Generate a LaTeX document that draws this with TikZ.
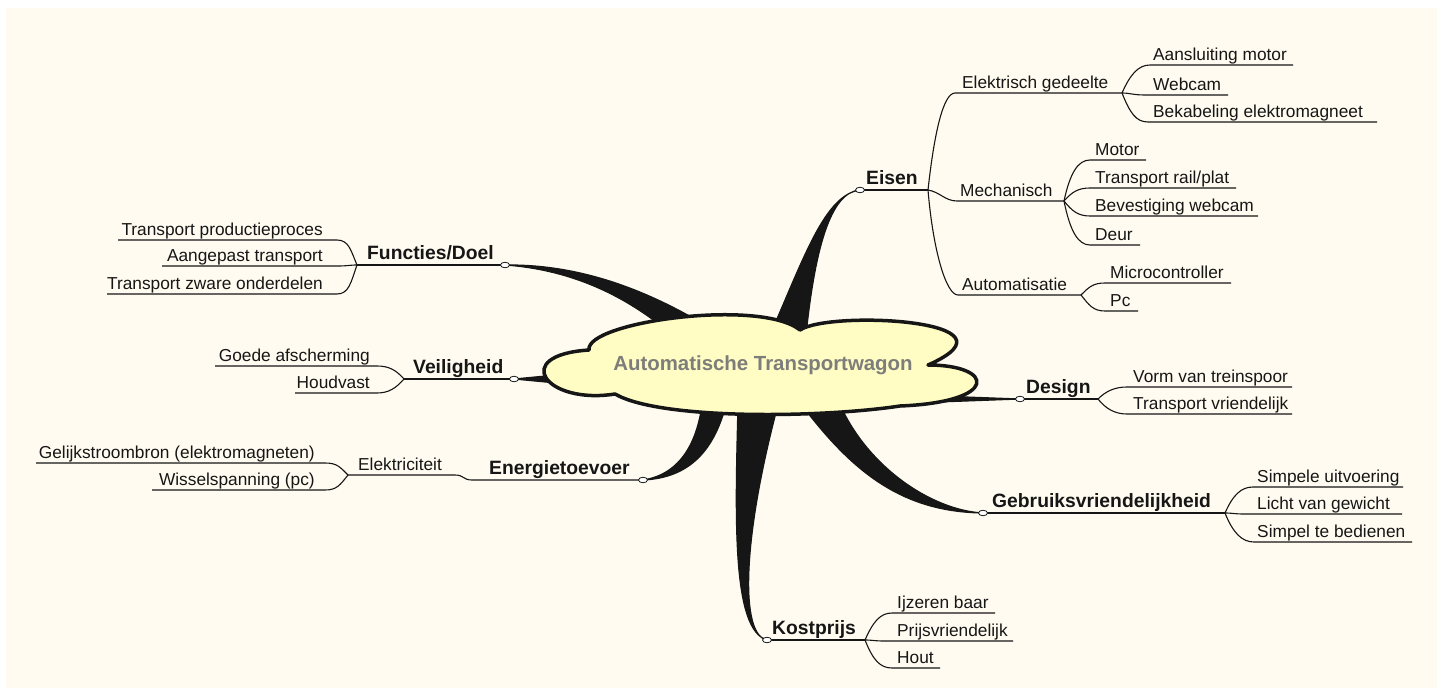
\documentclass[tikz,border=0pt]{standalone}
\usepackage{fontspec}
\setmainfont{Liberation Sans}
\usetikzlibrary{shapes.geometric}
\definecolor{paper}{RGB}{255,251,240}
\definecolor{ink}{RGB}{22,22,22}
\definecolor{cloudfill}{RGB}{255,253,196}
\definecolor{titlegray}{RGB}{125,125,122}
\tikzset{
  leaf/.style={font=\fontsize{17.3}{20}\selectfont, text=ink, inner sep=0pt, anchor=base west},
  leafleft/.style={leaf, anchor=base east},
  topic/.style={font=\bfseries\fontsize{19.3}{23}\selectfont, text=ink, inner sep=0pt, anchor=base west},
  twig/.style={draw=ink, line width=1.1pt},
  knob/.style={ellipse, draw=ink, fill=white, line width=0.8pt, minimum width=9pt, minimum height=5.5pt, inner sep=0pt},
  limb/.style={fill=ink, draw=ink, line width=1.2pt, line join=round},
}
% right-hand leaf: name, parent, first control offset, underline start x, text x, underline end x, underline y, text
\newcommand\twigright[8]{%
  \coordinate (#1-s) at (#4,#7);
  \coordinate (#1-e) at (#6,#7);
  \node[leaf] (#1) at (#5,#7-5) {#8};
  \draw[twig] (#2) .. controls +(#3) and +(-12,0) .. (#1-s) -- (#1-e);
}
% left-hand leaf: same arguments, text right-aligned
\newcommand\twigleft[8]{%
  \coordinate (#1-s) at (#4,#7);
  \coordinate (#1-e) at (#6,#7);
  \node[leafleft] (#1) at (#5,#7-5) {#8};
  \draw[twig] (#2) .. controls +(#3) and +(12,0) .. (#1-s) -- (#1-e);
}
\begin{document}
\begin{tikzpicture}[x=1pt,y=-1pt]
\useasboundingbox (0,0) rectangle (1444,688);
\fill[white] (0,0) rectangle (1444,688);
\fill[paper] (6,8) rectangle (1437,688);

% knots where the limbs meet the topic underlines
\coordinate (kEisen) at (860,190);
\coordinate (kFunc) at (505,265);
\coordinate (kVeil) at (514,379);
\coordinate (kEner) at (643,480);
\coordinate (kDes) at (1020,399);
\coordinate (kGeb) at (983,513);
\coordinate (kKost) at (767,640);

% tapered limbs from the central cloud
\draw[limb] (768,350) -- (770,335) .. controls (805,255) and (825,195) .. (kEisen)
  .. controls (830,192) and (815,250) .. (806,335) -- (804,350) -- cycle;
\draw[limb] (665,338) -- (660,325) .. controls (625,298) and (575,270) .. (kFunc)
  .. controls (580,264) and (645,290) .. (700,322) -- (705,336) -- cycle;
\draw[limb] (kVeil) -- (556,375) -- (556,383) -- cycle;
\draw[limb] (702,405) .. controls (697,440) and (682,474) .. (kEner)
  .. controls (690,478) and (714,450) .. (726,405) -- cycle;
\draw[limb] (kDes) -- (925,395.5) -- (925,402.5) -- cycle;
\draw[limb] (798,400) .. controls (850,470) and (900,512) .. (kGeb)
  .. controls (930,510) and (865,465) .. (838,400) -- cycle;
\draw[limb] (738,405) .. controls (735,520) and (732,630) .. (kKost)
  .. controls (740,635) and (742,540) .. (778,405) -- cycle;

% central cloud: lobes meeting in notches
\draw[line width=3.5pt, draw=ink, fill=cloudfill, line join=round]
  (589,350) .. controls (585,322) and (760,298) .. (800,330)
  .. controls (830,310) and (1030,320) .. (928,365)
  .. controls (995,365) and (1000,402) .. (900,406)
  .. controls (820,418) and (660,420) .. (615,394)
  .. controls (545,405) and (510,355) .. cycle;
\node[font=\bfseries\fontsize{20.4}{24}\selectfont, text=titlegray] (hub) at (763,365)
  {Automatische Transportwagon};

% Eisen
\node[topic] (Eisen) at (866,184) {Eisen};
\coordinate (bEisen) at (928,190);
\draw[twig] (kEisen) -- (bEisen);
\twigright{elek}{bEisen}{6,-55}{955}{962}{1122}{93}{Elektrisch gedeelte}
\twigright{aans}{elek-e}{8,-18}{1150}{1153}{1293}{65}{Aansluiting motor}
\twigright{webc}{elek-e}{8,0}{1145}{1153}{1228}{95}{Webcam}
\twigright{beka}{elek-e}{8,20}{1148}{1153}{1377}{122}{Bekabeling elektromagneet}
\twigright{mech}{bEisen}{12,2}{957}{960}{1064}{201}{Mechanisch}
\twigright{moto}{mech-e}{6,-28}{1090}{1095}{1146}{160}{Motor}
\twigright{rail}{mech-e}{8,-9}{1090}{1095}{1236}{188}{Transport rail/plat}
\twigright{beve}{mech-e}{8,10}{1090}{1095}{1258}{216}{Bevestiging webcam}
\twigright{deur}{mech-e}{6,30}{1090}{1095}{1140}{245}{Deur}
\twigright{auto}{bEisen}{5,60}{958}{962}{1081}{295}{Automatisatie}
\twigright{micr}{auto-e}{8,-8}{1105}{1110}{1231}{283}{Microcontroller}
\twigright{pc}{auto-e}{8,10}{1105}{1110}{1138}{311}{Pc}

% Functies/Doel
\node[topic] (Func) at (367,259) {Functies/Doel};
\coordinate (bFunc) at (357,265);
\draw[twig] (kFunc) -- (bFunc);
\twigleft{tpp}{bFunc}{-6,-14}{337}{323}{118}{240}{Transport productieproces}
\twigleft{aang}{bFunc}{-8,0}{337}{323}{162}{266}{Aangepast transport}
\twigleft{tzo}{bFunc}{-6,17}{337}{323}{107}{294}{Transport zware onderdelen}

% Veiligheid
\node[topic] (Veil) at (413,373) {Veiligheid};
\coordinate (bVeil) at (404,379);
\draw[twig] (kVeil) -- (bVeil);
\twigleft{goede}{bVeil}{-8,-9}{377}{370}{215}{366}{Goede afscherming}
\twigleft{houd}{bVeil}{-8,9}{377}{370}{295}{393}{Houdvast}

% Energietoevoer
\node[topic] (Ener) at (489,474) {Energietoevoer};
\coordinate (eStep) at (472,480);
\coordinate (elecEnd) at (455,475);
\coordinate (bElec) at (348,475);
\node[leaf] (Elec) at (358,470) {Elektriciteit};
\draw[twig] (kEner) -- (eStep) .. controls +(-9,0) and +(9,0) .. (elecEnd) -- (bElec);
\twigleft{gelijk}{bElec}{-8,-8}{325}{315}{36}{463}{Gelijkstroombron (elektromagneten)}
\twigleft{wissel}{bElec}{-8,10}{325}{315}{152}{490}{Wisselspanning (pc)}

% Design
\node[topic] (Des) at (1026,393) {Design};
\coordinate (bDes) at (1098,399);
\draw[twig] (kDes) -- (bDes);
\twigright{vorm}{bDes}{8,-8}{1127}{1133}{1292}{387}{Vorm van treinspoor}
\twigright{tvr}{bDes}{8,10}{1127}{1133}{1292}{414}{Transport vriendelijk}

% Gebruiksvriendelijkheid
\node[topic] (Geb) at (992,507) {Gebruiksvriendelijkheid};
\coordinate (bGeb) at (1225,513);
\draw[twig] (kGeb) -- (bGeb);
\twigright{simp}{bGeb}{8,-18}{1253}{1257}{1403}{487}{Simpele uitvoering}
\twigright{licht}{bGeb}{8,0}{1245}{1257}{1402}{514}{Licht van gewicht}
\twigright{bedi}{bGeb}{8,20}{1254}{1257}{1412}{542}{Simpel te bedienen}

% Kostprijs
\node[topic] (Kost) at (772,634) {Kostprijs};
\coordinate (bKost) at (865,640);
\draw[twig] (kKost) -- (bKost);
\twigright{ijz}{bKost}{8,-18}{892}{897}{995}{613}{Ijzeren baar}
\twigright{prijs}{bKost}{8,0}{885}{897}{1013}{641}{Prijsvriendelijk}
\twigright{hout}{bKost}{8,20}{892}{897}{940}{668}{Hout}

% knobs on the topic lines
\node[knob] (mEisen) at (kEisen) {};
\node[knob] (mFunc) at (kFunc) {};
\node[knob] (mVeil) at (kVeil) {};
\node[knob] (mEner) at (kEner) {};
\node[knob] (mDes) at (kDes) {};
\node[knob] (mGeb) at (kGeb) {};
\node[knob] (mKost) at (kKost) {};
\end{tikzpicture}
\end{document}
